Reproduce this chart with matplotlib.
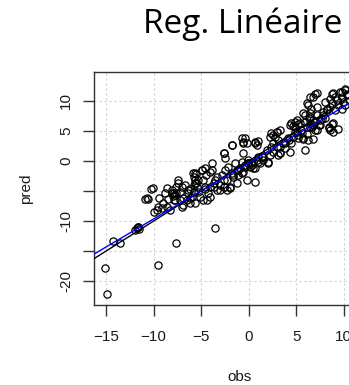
import matplotlib
matplotlib.use("Agg")
import matplotlib.pyplot as plt
import numpy as np

obs = [
    -8.1, -7.75, -7.6, -7.9, -7.2, -7.05, -6.9, -7.4, -6.7, -6.35, -6.2, -5.8, -5.65, -5.5, -5.3, -5.1,
    -4.95, -4.8, -4.6, -4.4, -4.25, -4.05, -4.05, -3.7, -3.55, -3.35, -3.0, -2.85, -2.65, -2.5, -2.3,
    -2.15, -1.95, -1.8, -1.6, -1.45, -1.25, -1.1, -0.9, -0.75, -0.55, -0.4, -0.2, -0.05, 0.15, 0.3,
    0.5, 0.65, 0.85, 1.0, 1.2, 1.35, 1.55, 1.9, 2.05, 2.25, 2.4, 2.6, 2.95, 3.1, 3.3, 3.65, 3.8, 4.2,
    4.35, 4.5, 4.7, 4.9, 5.05, 5.2, 5.4, 5.6, 5.75, 5.95, 6.1, 6.3, 6.45, 6.65, 6.8, 7.0, 7.15, 7.35,
    7.5, 7.85, 8.05, 8.2, 8.4, 8.55, 8.75, 8.9, 9.1, 9.25, 9.45, 9.6, 9.8, 9.95, 10.15, 10.3, 8.9,
    7.15, 6.8, 6.1, 6.45, 5.75, 4.9, 4.35, 2.95, 2.6, 2.25, 3.3, 0.65, 0.85, -0.4, -0.55, -1.8, -2.65,
    -2.5, -3.9, -4.6, -4.05, -4.8, -5.65, -6.2, -3.55,
    -10.3, -10.9, -10.55, -9.4, -8.8, -8.1, -7.4, -7.05, -5.65, -5.8, -10.0, -9.5, -9.0, -8.45, -7.95,
    -7.25, -6.9, -8.3, -8.65, -9.7, -9.15, -7.6, -6.35, -6.0, -5.8, -5.45, -6.15, -6.5, -5.3, -5.65,
    -7.75, -11.95, -11.6,
    -1.8, -0.55, -0.75, -2.65, -0.55, -4.95, -5.85, -4.45, -3.9, -3.35, -2.65, -1.95, -1.6, -1.1,
    -0.4, -5.5, -4.6, -3.7, -3.0, -2.65, -2.3, -1.25, -0.05, -0.75,
    4.5, 5.05, 4.7, 2.4, 2.95, 2.75, 3.1, 2.6, 3.3, 3.8, 4.15, 4.85, 0.65, 1.0, -0.2, 2.05, 3.3, 0.3,
    0.65, -0.05, 1.0, 1.35,
    10.15, 9.8, 10.3, 8.75, 8.55, 9.1, 7.0, 6.45, 6.25, 6.6, 5.9, 6.45, 7.15, 8.05, 8.2, 7.85, 7.7,
    7.0, 6.8, 6.45, 5.9, 5.2, 5.55, 6.1, 5.75, 6.25, 6.8, 7.15, 7.5, 8.4, 8.75, 8.9, 9.45, 9.8, 10.15,
    5.2, 8.55,
    -14.9, -15.1, -9.55, -7.65, -14.25, -13.5, -11.7, -11.5, -10.75, -10.05, -8.6, -7.9, -11.8,
]
pred = [
    -4.8, -5.7, -4.3, -6.5, -5.1, -7.6, -6.2, -3.2, -4.0, -5.4, -4.6, -2.6, -3.7, -2.1, -5.1, -5.95,
    -1.5, -3.2, -4.6, -6.5, -5.4, -4.3, -1.8, -3.7, -3.2, -4.8, -4.0, -2.3, -4.3, -1.5, -3.2,
    -0.95, -4.55, -2.05, -2.6, -0.4, -1.5, -2.35, -1.2, -0.1, -1.8, -0.65, -3.2, 0.15, -0.95, -0.4,
    -1.2, -3.45, 0.15, 0.7, -0.4, 0.7, 0.15, 1.8, -0.4, 1.0, 2.4, 1.55, 2.4, 1.0, 1.3, 2.95, 2.1, 3.5,
    1.55, 2.95, 4.05, 5.7, 4.9, 3.75, 6.25, 4.6, 3.75, 1.85, 5.7, 7.1, 6.25, 5.7, 6.8, 5.15, 7.65, 6.0,
    6.8, 7.65, 7.1, 8.5, 5.45, 9.05, 9.6, 6.25, 8.5, 10.15, 9.35, 11.55, 10.7, 9.9, 11.85, 11.0, 11.25,
    11.25, 10.7, 9.6, 7.95, 7.95, 6.55, 6.0, 4.9, 4.35, 4.05, 5.15, 3.2, 2.65, 3.75, 3.2, 2.65, 1.3,
    0.45, -0.4, -1.2, -5.95, -6.5, -7.05, -6.2, -11.25,
    -4.7, -6.4, -6.4, -6.2, -5.4, -5.4, -3.6, -4.3, -2.05, -4.0, -8.45, -7.6, -7.05, -6.4, -5.85,
    -6.5, -7.35, -8.15, -7.6, -8.15, -7.9, -5.4, -4.85, -5.95, -5.1, -4.3, -7.05, -6.5, -3.15, -3.15,
    -6.5, -11.5, -10.95,
    2.65, 2.95, 3.75, 1.25, 1.25, -1.5, -2.05, -2.35, -1.5, -2.6, -3.15, -4.3, -2.35, -1.5,
    -0.95, -3.7, -4.3, -4.3, -4.85, -4.3, -4.85, -3.7, -0.4, -2.05,
    6.3, 6.85, 5.75, 4.6, 4.9, 4.05, 3.5, 2.95, 2.4, 2.95, 3.8, 4.9, 2.95, 3.25, 2.95, -0.1, 1.3, -0.65,
    -1.2, -0.4, -0.1, 0.75,
    12.05, 11.5, 11.2, 11.2, 10.4, 10.65, 11.2, 10.65, 9.25, 8.7, 7.6, 7.35, 9.0, 9.85, 8.7, 8.15, 7.05,
    6.5, 5.95, 5.65, 6.5, 6.2, 5.1, 4.55, 3.7, 3.45, 3.7, 5.1, 5.95, 5.65, 6.2, 4.85, 5.4, 8.7, 9.25,
    4.3, 5.1,
    -22.1, -17.9, -17.3, -13.7, -13.3, -13.6, -11.05, -11.3, -6.2, -4.55, -4.55, -5.4, -11.2,
]

# reference lines: 1:1 (black) and fitted regression (blue)
ref_intercept, ref_slope = 0.0, 1.0
fit_intercept, fit_slope = -0.3, 0.935

xticks = [-15, -10, -5, 0, 5, 10]
yticks = [-20, -15, -10, -5, 0, 5, 10]
ytick_labels = ["-20", "", "-10", "", "0", "5", "10"]

fig = plt.figure(figsize=(3.49, 3.85), dpi=100)
ax = fig.add_axes([94 / 349, 80 / 385, 292 / 349, 233 / 385])

xlim = (-16.28, 14.45)
ylim = (-24.0, 14.83)

for v in xticks:
    ax.axvline(v, color="#cfcfcf", lw=0.8, ls=(0, (2, 2.5)), zorder=0)
for v in yticks:
    ax.axhline(v, color="#cfcfcf", lw=0.8, ls=(0, (2, 2.5)), zorder=0)

ax.plot(obs, pred, "o", mfc="none", mec="black", ms=5.2, mew=0.9, zorder=2)

xx = np.array(xlim)
ax.plot(xx, ref_intercept + ref_slope * xx, color="black", lw=1.0, zorder=3)
ax.plot(xx, fit_intercept + fit_slope * xx, color="#0000ff", lw=1.0, zorder=4)

ax.set_xlim(xlim)
ax.set_ylim(ylim)
ax.set_xticks(xticks)
ax.set_yticks(yticks)
ax.set_yticklabels(ytick_labels, rotation=90, va="center")

for s in ax.spines.values():
    s.set_color("#333333")
    s.set_linewidth(1.0)

ax.tick_params(direction="out", length=8, width=1, color="#333333",
               labelsize=11, labelcolor="#1a1a1a")
ax.tick_params(axis="x", pad=10)
ax.tick_params(axis="y", pad=7)
for lab in ax.get_xticklabels() + ax.get_yticklabels():
    lab.set_family("Liberation Sans")

ax.set_xlabel("obs", fontsize=11, family="Liberation Sans", color="#1a1a1a", labelpad=19)
ax.set_ylabel("pred", fontsize=11, family="Liberation Sans", color="#1a1a1a", labelpad=19)

fig.text(342 / 349, 1 - 33 / 385, "Reg. Linéaire", ha="right", va="baseline",
         fontsize=24, family="Open Sans", color="black")

fig.savefig("out.png", dpi=100)
